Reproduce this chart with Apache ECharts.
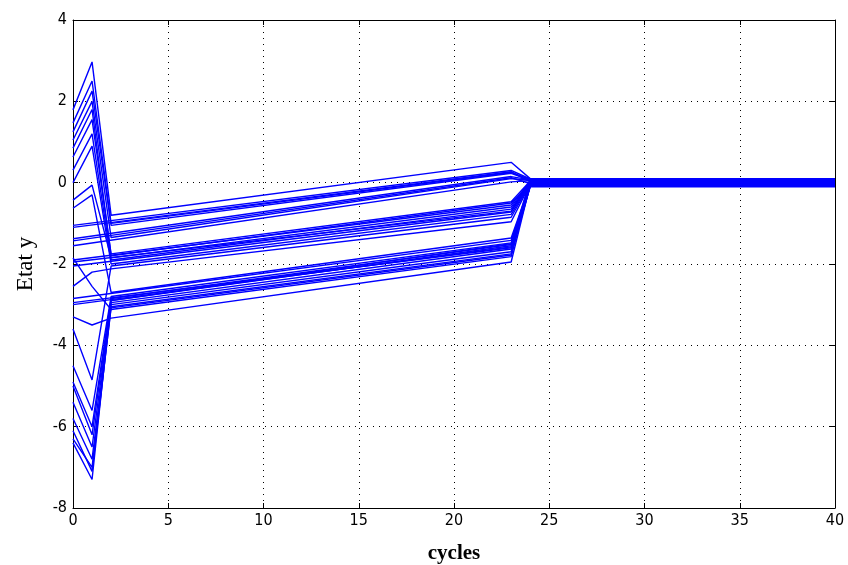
<!DOCTYPE html>
<html>
<head>
<meta charset="utf-8">
<script src="https://cdn.jsdelivr.net/npm/echarts@6/dist/echarts.min.js"></script>
<style>
html,body{margin:0;padding:0;background:#fff;}
#chart{width:848px;height:565px;}
</style>
</head>
<body>
<div id="chart"></div>
<script>
// Values at cycle 0 for each state component
const startVals = [1.79, -1.05, 1.47, -1.38, 1.05, -1.55, 0.63, -1.9, -0.43, 0.31, -2.05, 0.0, -3.6, -2.55,
                   -0.63, -2.85, -4.5, -4.9, -3.0, -5.4, -5.8, -6.1, -1.85, -3.3, -6.4,
                   -1.1, -1.43, 1.25, 0.85, -1.95, -2.95, -5.0, -6.3];
// Values at cycle 1 (null = no transient)
const peakVals = [2.97, null, 2.5, null, 2.0, null, 1.55, null, -0.06, 1.2, null, 0.9, -4.85, -2.2,
                  -0.3, null, -5.6, -6.0, null, -6.5, -6.8, -7.1, -2.55, -3.5, -7.3,
                  null, null, 2.25, 1.8, null, null, -6.2, -7.0];
// Values at cycle 2 (null = no transient)
const jumpVals = [-0.8, null, -1.0, null, -1.35, null, -1.75, null, -1.85, -1.9, null, -2.0, -2.05, -2.12,
                  -2.7, null, -2.8, -2.85, null, -2.95, -3.0, -3.05, -3.12, -3.33, -2.9,
                  null, null, -1.05, -1.8, null, null, -2.9, -3.08];
// Values at cycle 23
const endVals = [0.5, 0.3, 0.25, 0.15, 0.1, 0.02, -0.47, -0.55, -0.6, -0.65, -0.72, -0.78, -0.85, -0.96,
                 -1.36, -1.42, -1.48, -1.52, -1.58, -1.63, -1.7, -1.75, -1.82, -1.95, -1.55,
                 0.27, 0.12, 0.23, -0.5, -0.7, -1.6, -1.5, -1.78];
// Values from cycle 24 to 40
const tailVals = [0.1, 0.09, 0.08, 0.07, 0.06, 0.05, 0.04, 0.03, 0.02, 0.01, 0.0, -0.01, -0.02, -0.03,
                  -0.04, -0.05, -0.06, -0.07, -0.08, -0.09, -0.1, 0.0, 0.05, -0.05, 0.0,
                  0.02, -0.02, 0.06, -0.06, 0.03, -0.03, 0.08, -0.08];
const xTicks = [0, 5, 10, 15, 20, 25, 30, 35, 40];
const yTicks = [-8, -6, -4, -2, 0, 2, 4];

const series = startVals.map((s, i) => {
  const pts = [[0, s]];
  if (peakVals[i] !== null) { pts.push([1, peakVals[i]]); pts.push([2, jumpVals[i]]); }
  pts.push([23, endVals[i]]);
  pts.push([24, tailVals[i]]);
  pts.push([40, tailVals[i]]);
  return {
    type: 'line', data: pts, symbol: 'none', silent: true,
    lineStyle: {color: '#0000ff', width: 1.4}
  };
});

const tickFont = {fontFamily: '"Liberation Sans Narrow", "DejaVu Sans Condensed", Arial, sans-serif', fontSize: 16, color: '#000'};
const gridLine = {show: true, lineStyle: {color: '#000', type: [1, 5], width: 1}};

const chart = echarts.init(document.getElementById('chart'), null, {renderer: 'canvas'});
chart.setOption({
  animation: false,
  backgroundColor: '#fff',
  grid: {left: 73, right: 13, top: 20, bottom: 57, containLabel: false, outerBoundsMode: 'none'},
  xAxis: [{
    type: 'value', min: xTicks[0], max: xTicks[xTicks.length - 1], interval: 5,
    position: 'bottom',
    name: 'cycles', nameLocation: 'middle', nameGap: 35,
    nameTextStyle: {fontFamily: '"Liberation Serif", "Times New Roman", serif', fontWeight: 'bold', fontSize: 21, color: '#000'},
    axisLine: {show: true, onZero: false, lineStyle: {color: '#000', width: 1}},
    axisTick: {show: true, inside: true, length: 5, lineStyle: {color: '#000'}},
    axisLabel: Object.assign({margin: 5}, tickFont),
    splitLine: gridLine
  }, {
    type: 'value', min: xTicks[0], max: xTicks[xTicks.length - 1], interval: 5,
    position: 'top',
    axisLine: {show: true, onZero: false, lineStyle: {color: '#000', width: 1}},
    axisTick: {show: true, inside: true, length: 5, lineStyle: {color: '#000'}},
    axisLabel: {show: false}, splitLine: {show: false}
  }],
  yAxis: [{
    type: 'value', min: yTicks[0], max: yTicks[yTicks.length - 1], interval: 2,
    position: 'left',
    name: 'Etat y', nameLocation: 'middle', nameGap: 36, nameRotate: 90,
    nameTextStyle: {fontFamily: '"Liberation Serif", "Times New Roman", serif', fontSize: 23, color: '#000'},
    axisLine: {show: true, onZero: false, lineStyle: {color: '#000', width: 1}},
    axisTick: {show: true, inside: true, length: 5, lineStyle: {color: '#000'}},
    axisLabel: Object.assign({margin: 6}, tickFont),
    splitLine: gridLine
  }, {
    type: 'value', min: yTicks[0], max: yTicks[yTicks.length - 1], interval: 2,
    position: 'right',
    axisLine: {show: true, onZero: false, lineStyle: {color: '#000', width: 1}},
    axisTick: {show: true, inside: true, length: 5, lineStyle: {color: '#000'}},
    axisLabel: {show: false}, splitLine: {show: false}
  }],
  series: series
});
</script>
</body>
</html>
